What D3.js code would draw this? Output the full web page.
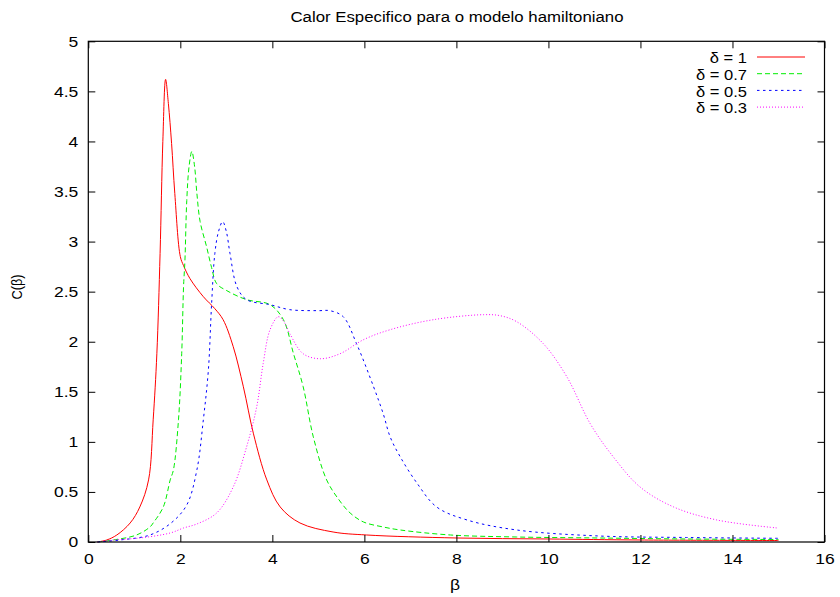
<!DOCTYPE html>
<html><head><meta charset="utf-8">
<script src="https://cdn.jsdelivr.net/npm/d3@7"></script>
<style>body{margin:0;background:#fff}svg{display:block;font-family:"Liberation Sans",Arial,sans-serif}</style>
</head><body><svg id="c" width="840" height="597"></svg>
<script>
const title = "Calor Especifico para o modelo hamiltoniano";
const xTicks = [0,2,4,6,8,10,12,14,16];
const yTicks = [0,0.5,1,1.5,2,2.5,3,3.5,4,4.5,5];
const seriesNames = ["δ = 1","δ = 0.7","δ = 0.5","δ = 0.3"];

const x1 = [0.2,0.4,0.62,0.91,1.12,1.31,1.41,1.49,1.56,1.62,1.68,1.74,1.81,1.88,2.0,2.07,2.21,2.5,2.75,2.93,3.15,3.37,3.59,3.88,4.17,4.6,5.32,6.05,8,10,12,15];
const y1 = [0,0.02,0.07,0.19,0.35,0.62,1.22,1.88,2.88,4.0,4.62,4.38,3.98,3.48,2.85,2.76,2.63,2.45,2.33,2.22,1.95,1.55,1.08,0.62,0.35,0.19,0.10,0.07,0.04,0.03,0.02,0.015];

const x2 = [0.2,0.54,1.05,1.34,1.41,1.63,1.78,1.85,1.96,2.03,2.07,2.10,2.14,2.19,2.25,2.31,2.36,2.43,2.57,2.68,2.79,3.01,3.44,3.95,4.24,4.46,4.67,4.89,5.18,5.45,5.69,5.98,6.41,6.78,7.87,9.31,11.1,13,15];
const y2 = [0,0.02,0.07,0.15,0.19,0.35,0.62,0.72,1.22,1.88,2.55,2.81,3.41,3.75,3.90,3.75,3.48,3.2,2.95,2.74,2.58,2.51,2.42,2.37,2.22,1.88,1.55,1.05,0.62,0.42,0.29,0.20,0.15,0.12,0.07,0.05,0.04,0.03,0.025];

const x3 = [0.2,0.69,1.34,1.8,2.14,2.36,2.5,2.61,2.68,2.75,2.83,2.92,3.0,3.08,3.23,3.44,3.95,4.38,5.0,5.25,5.54,5.83,6.2,6.41,6.56,6.78,7.14,7.57,8.23,9.31,11.1,13,15];
const y3 = [0,0.02,0.07,0.19,0.37,0.72,1.22,1.72,2.38,2.88,3.1,3.2,3.1,2.88,2.55,2.42,2.37,2.32,2.31,2.31,2.25,1.98,1.55,1.28,1.05,0.85,0.59,0.35,0.22,0.12,0.06,0.045,0.037];

const x4 = [0.2,0.54,1.12,1.78,2.07,2.36,2.79,3.15,3.44,3.66,3.8,3.95,4.13,4.25,4.38,4.67,5.04,5.47,5.98,6.56,7.5,8.59,8.95,9.31,9.89,10.4,10.91,11.41,11.99,12.72,13.66,14.97];
const y4 = [0,0.02,0.04,0.09,0.14,0.18,0.29,0.55,0.95,1.35,1.78,2.12,2.25,2.2,2.08,1.88,1.83,1.88,2.02,2.12,2.22,2.27,2.26,2.20,1.98,1.65,1.18,0.85,0.55,0.35,0.22,0.14];

const colors = ["#ff0000","#00ee00","#0000ff","#ff00ff"];
const dashes = [null,"5,3","2.5,3.5","1,2"];

const svg = d3.select("#c");
const L=88.3,R=824.5,T=41.3,B=542;
const x = d3.scaleLinear().domain([0,16]).range([L,R]);
const y = d3.scaleLinear().domain([0,5]).range([B,T]);

function stretch(sel, sx){
  sel.each(function(){
    const t = d3.select(this);
    const ax = +(t.attr("x")||0);
    const prev = t.attr("transform")||"";
    t.attr("transform", prev+` translate(${ax},0) scale(${sx},1) translate(${-ax},0)`);
  });
}

const series = [[x1,y1],[x2,y2],[x3,y3],[x4,y4]].map(([xs,ys])=>xs.map((v,i)=>[v,ys[i]]));
const line = d3.line().x(d=>x(d[0])).y(d=>y(Math.max(0,d[1]))).curve(d3.curveCatmullRom.alpha(0.5));

const g = svg.append("g");
series.forEach((s,i)=>{
  g.append("path").datum(s).attr("d",line).attr("fill","none")
   .attr("stroke",colors[i]).attr("stroke-width",1)
   .attr("stroke-dasharray",dashes[i]);
});

const tl=7;
const fs=15.5;
const ff='"Liberation Sans",Arial,sans-serif';
const axB = d3.axisBottom(x).tickValues(xTicks).tickSizeInner(-tl).tickSizeOuter(0).tickPadding(11).tickFormat(d3.format("d"));
const axT = d3.axisTop(x).tickValues(xTicks).tickSizeInner(-tl).tickSizeOuter(0).tickFormat("");
const axL = d3.axisLeft(y).tickValues(yTicks).tickSizeInner(-tl).tickSizeOuter(0).tickPadding(10).tickFormat(d=>d3.format("")(d));
const axR = d3.axisRight(y).tickValues(yTicks).tickSizeInner(-tl).tickSizeOuter(0).tickFormat("");
[[axB,`translate(0,${B})`],[axT,`translate(0,${T})`],[axL,`translate(${L},0)`],[axR,`translate(${R},0)`]].forEach(([a,t])=>{
  const ga = svg.append("g").attr("transform",t).call(a);
  ga.select(".domain").remove();
  ga.selectAll("line").attr("stroke","#000");
  ga.selectAll("text").attr("font-size",fs).attr("fill","#000").style("font-family",ff);
  stretch(ga.selectAll("text"),1.13);
});
svg.append("rect").attr("x",L).attr("y",T).attr("width",R-L).attr("height",B-T)
  .attr("fill","none").attr("stroke","#000").attr("stroke-width",1.2);

svg.append("text").attr("x",457).attr("y",22).attr("text-anchor","middle").attr("font-size",15).text(title).call(stretch,1.12);
svg.append("text").attr("x",455).attr("y",590).attr("text-anchor","middle").attr("font-size",fs).text("β").call(stretch,1.13);
svg.append("text").attr("transform","translate(22,287) rotate(-90)").attr("text-anchor","middle")
  .attr("font-size",14.5).attr("textLength",25).attr("lengthAdjust","spacingAndGlyphs").text("C(β)");

const leg = svg.append("g");
seriesNames.forEach((n,i)=>{
  const yy = 57 + i*16.7;
  leg.append("text").attr("x",747).attr("y",yy+6.4).attr("text-anchor","end").attr("font-size",15).text(n).call(stretch,1.1);
  leg.append("line").attr("x1",757).attr("x2",805).attr("y1",yy).attr("y2",yy)
    .attr("stroke",colors[i]).attr("stroke-width",1).attr("stroke-dasharray",dashes[i]);
});
</script></body></html>
